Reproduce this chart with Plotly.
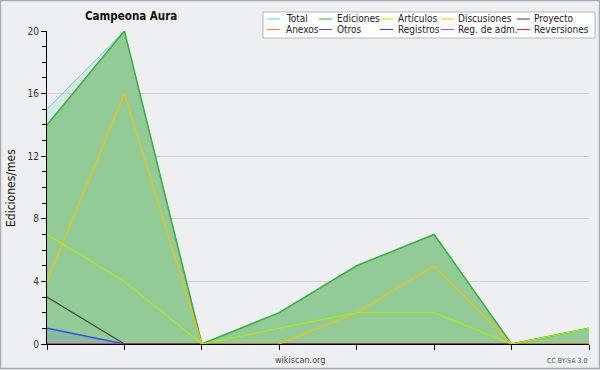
import plotly.graph_objects as go

# ---- data ----
months = [0, 1, 2, 3, 4, 5, 6, 7]
total = [15, 20, 0, 2, 5, 7, 0, 1]
ediciones = [14, 20, 0, 2, 5, 7, 0, 1]
articulos = [7, 4, 0, 1, 2, 2, 0, 1]
discusiones = [4, 16, 0, 0, 2, 5, 0, 0]
proyecto = [3, 0, 0, 0, 0, 0, 0, 0]
anexos = [0, 0, 0, 0, 0, 0, 0, 0]
otros = [0, 0, 0, 0, 0, 0, 0, 0]
registros = [1, 0, 0, 0, 0, 0, 0, 0]
reg_adm = [0, 0, 0, 0, 0, 0, 0, 0]
reversiones = [0, 0, 0, 0, 0, 0, 0, 0]

legend_names = [["Total", "Ediciones", "Artículos", "Discusiones", "Proyecto"],
                ["Anexos", "Otros", "Registros", "Reg. de adm.", "Reversiones"]]
colors = {
    "Total": "#5fcfcf", "Ediciones": "#3aae3f", "Artículos": "#aaea1a",
    "Discusiones": "#f0c010", "Proyecto": "#444444", "Anexos": "#f08040",
    "Otros": "#7040c0", "Registros": "#3050f0", "Reg. de adm.": "#c050d0",
    "Reversiones": "#e03030",
}
yticks = [0, 4, 8, 12, 16, 20]

FONT = "DejaVu Sans Condensed, DejaVu Sans"
BG = "#eeeff1"
W, H = 600, 370
L, R, T, B = 47, 11, 31, 26
pw, ph = W - L - R, H - T - B


def px(x):
    return (x - L) / pw


def py(y):
    return (H - B - y) / ph


fig = go.Figure()
fig.add_trace(go.Scatter(x=months, y=total, mode="lines", name="Total",
                         line=dict(color=colors["Total"], width=1),
                         fill="tozeroy", fillcolor="rgba(140,215,205,0.25)"))
fig.add_trace(go.Scatter(x=months, y=ediciones, mode="lines", name="Ediciones",
                         line=dict(color=colors["Ediciones"], width=1.5),
                         fill="tozeroy", fillcolor="#93cb96"))
fig.add_trace(go.Scatter(x=months, y=registros, mode="lines", name="Registros",
                         line=dict(color=colors["Registros"], width=1.5),
                         fill="tozeroy", fillcolor="rgba(60,80,255,0.12)"))
for nm, vals in [("Anexos", anexos), ("Otros", otros), ("Reg. de adm.", reg_adm),
                 ("Reversiones", reversiones), ("Proyecto", proyecto),
                 ("Discusiones", discusiones), ("Artículos", articulos)]:
    fig.add_trace(go.Scatter(x=months, y=vals, mode="lines", name=nm,
                             line=dict(color=colors[nm], width=1.2)))

shapes = []
annotations = []
# outer frame
shapes.append(dict(type="rect", xref="paper", yref="paper",
                   x0=px(0.5), x1=px(599.5), y0=py(0.5), y1=py(368.5),
                   line=dict(color="#aaaaaa", width=1.5), layer="above"))
# legend box
shapes.append(dict(type="rect", xref="paper", yref="paper",
                   x0=px(263), x1=px(595), y0=py(12), y1=py(38),
                   line=dict(color="#b8b8b8", width=1), fillcolor="white", layer="above"))
line_x = [267, 319, 380, 441, 517]
text_x = [284, 335, 396, 456, 532]
row_y = [19, 29.5]
for r, row in enumerate(legend_names):
    for c, nm in enumerate(row):
        shapes.append(dict(type="line", xref="paper", yref="paper",
                           x0=px(line_x[c]), x1=px(line_x[c] + 13),
                           y0=py(row_y[r]), y1=py(row_y[r]),
                           line=dict(color=colors[nm], width=1), layer="above"))
        annotations.append(dict(text=nm, xref="paper", yref="paper",
                                x=px(text_x[c]), y=py(row_y[r]), xanchor="left",
                                yanchor="middle", showarrow=False,
                                font=dict(family=FONT, size=10, color="#222")))

annotations.append(dict(text="<b>Campeona Aura</b>", xref="paper", yref="paper",
                        x=px(131), y=py(16), xanchor="center", yanchor="middle",
                        showarrow=False, font=dict(family=FONT, size=11.5, color="#111")))
annotations.append(dict(text="Ediciones/mes", xref="paper", yref="paper",
                        x=px(11), y=py(188), xanchor="center", yanchor="middle",
                        textangle=-90, showarrow=False,
                        font=dict(family=FONT, size=12, color="#111")))
annotations.append(dict(text="wikiscan.org", xref="paper", yref="paper",
                        x=px(300), y=py(360), xanchor="center", yanchor="middle",
                        showarrow=False, font=dict(family=FONT, size=9, color="#444")))
annotations.append(dict(text="CC BY-SA 3.0", xref="paper", yref="paper",
                        x=px(589), y=py(361), xanchor="right", yanchor="middle",
                        showarrow=False, font=dict(family=FONT, size=7, color="#555")))

fig.update_layout(
    width=W, height=H, autosize=False,
    margin=dict(l=L, r=R, t=T, b=B, pad=0),
    paper_bgcolor=BG, plot_bgcolor=BG,
    showlegend=False,
    shapes=shapes, annotations=annotations,
    font=dict(family=FONT, size=10, color="#333"),
)
fig.update_xaxes(range=[0, 7], showgrid=False, zeroline=False,
                 tickmode="array", tickvals=months, ticktext=[""] * len(months),
                 ticks="outside", ticklen=5, tickcolor="#000", tickwidth=1,
                 showline=True, linecolor="#000", linewidth=1)
fig.update_yaxes(range=[0, 20], tickmode="array", tickvals=yticks,
                 ticks="outside", ticklen=5, tickcolor="#000", tickwidth=1,
                 showgrid=True, gridcolor="#cfcfcf", gridwidth=1, zeroline=False,
                 showline=True, linecolor="#000", linewidth=1,
                 tickfont=dict(family=FONT, size=10, color="#333"),
                 minor=dict(dtick=1, ticks="outside", ticklen=4, tickcolor="#000",
                            showgrid=False))

fig.write_html("out.html")
